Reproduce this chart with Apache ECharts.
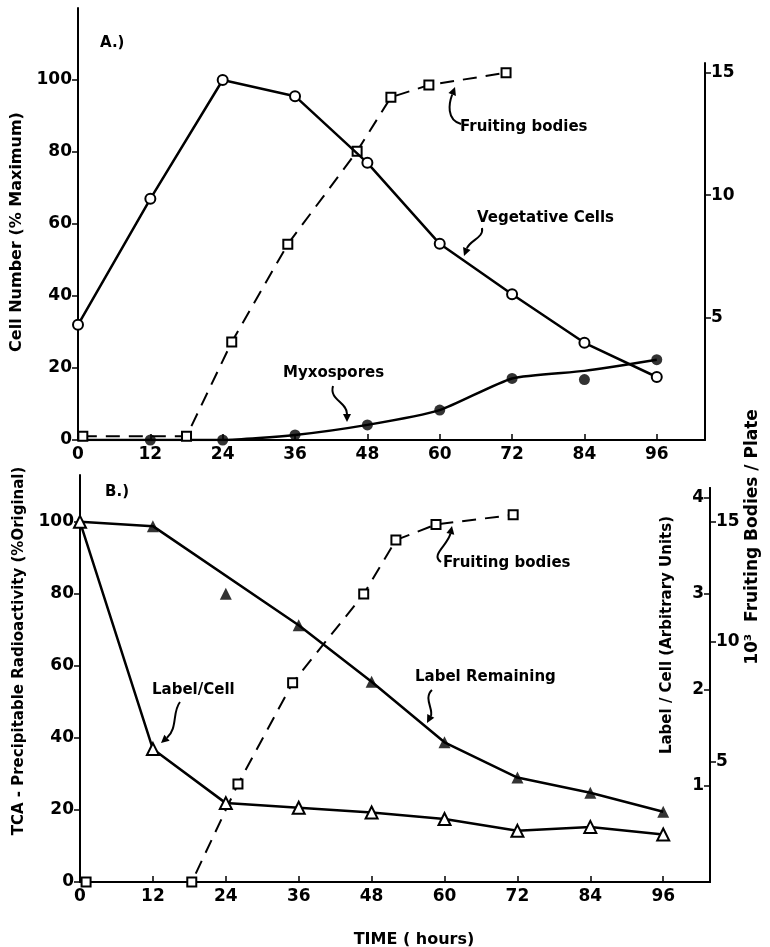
<!DOCTYPE html>
<html><head><meta charset="utf-8">
<script src="https://cdn.jsdelivr.net/npm/echarts@6/dist/echarts.min.js"></script>
<style>html,body{margin:0;padding:0;background:#fff}#c{width:770px;height:947px}</style>
</head><body><div id="c"></div>
<script>
// ---- Panel A data ----
const hours = [0, 12, 24, 36, 48, 60, 72, 84, 96];
const vegetativeCells = [32, 67, 100, 95.5, 77, 54.5, 40.5, 27, 17.5];
const myxoHours = [12, 24, 36, 48, 60, 72, 84, 96];
const myxospores = [0, 0, 1.4, 4.2, 8.3, 17.1, 16.8, 22.3];
const myxoCurveHours = [0, 12, 24, 36, 48, 60, 72, 84, 96];
const myxoCurve = [0, 0, 0, 1.4, 4.2, 8.3, 17.1, 19.2, 22.3];
const fruitHoursA = [0.8, 18, 25.5, 34.8, 46.3, 51.9, 58.2, 71];
const fruitingA = [0.15, 0.15, 4.0, 8.0, 11.8, 14.0, 14.5, 15.0];
// ---- Panel B data ----
const labelRemaining = [100, 98.8, 80, 71.3, 55.6, 38.8, 29, 24.8, 19.5];
const labelRemainingCurveHours = [0, 12, 36, 48, 60, 72, 84, 96];
const labelRemainingCurve = [100, 98.8, 71.3, 55.6, 38.8, 29, 24.8, 19.5];
const labelPerCell = [100, 36.9, 21.9, 20.6, 19.3, 17.5, 14.2, 15.3, 13.2];
const fruitHoursB = [1, 18.4, 26, 35, 46.7, 52, 58.6, 71.3];
const fruitingB = [0, 0, 4.08, 8.3, 12.0, 14.25, 14.9, 15.3];
// ---- ticks ----
const hourTicks = [0, 12, 24, 36, 48, 60, 72, 84, 96];
const pctTicks = [0, 20, 40, 60, 80, 100];
const fruitTicks = [5, 10, 15];
const labelCellTicks = [1, 2, 3, 4];

const F = 'DejaVu Sans';
const zip = (xs, ys) => xs.map((x, i) => [x, ys[i]]);
const axisLine = { show: true, onZero: false, lineStyle: { color: '#000', width: 2 } };
const noSplit = { show: false };

function xAx(grid, max, show) {
  return {
    type: 'value', gridIndex: grid, min: 0, max: max, position: 'bottom',
    show: show, axisLine: axisLine, splitLine: noSplit,
    axisTick: { show: true, inside: true, length: 6, customValues: hourTicks, lineStyle: { color: '#000', width: 1.5 } },
    axisLabel: { customValues: hourTicks, color: '#000', fontFamily: F, fontWeight: 'bold', fontSize: 17, margin: 6 }
  };
}
function yAx(grid, max, pos, ticks, inside, tickInside) {
  return {
    type: 'value', gridIndex: grid, min: 0, max: max, position: pos,
    axisLine: axisLine, splitLine: noSplit,
    axisTick: { show: true, inside: tickInside, length: 6, customValues: ticks, lineStyle: { color: '#000', width: 1.5 } },
    axisLabel: { customValues: ticks, inside: inside, color: '#000', fontFamily: F, fontWeight: 'bold', fontSize: 17, margin: 6 }
  };
}

const openSym = { color: '#fff', borderColor: '#000', borderWidth: 2 };
const solid = { color: '#000', width: 2.5 };
const dashed = { color: '#000', width: 2, type: [14, 9] };

function txt(x, y, s, size, align, rot) {
  return {
    type: 'text', x: x, y: y, rotation: rot || 0, z: 100,
    style: { text: s, fill: '#000', font: 'bold ' + size + 'px "' + F + '"', align: align || 'left', verticalAlign: 'middle' }
  };
}
function arrow(p0, c1, c2, p1) {
  const dx = p1[0] - c2[0], dy = p1[1] - c2[1];
  const L = Math.sqrt(dx * dx + dy * dy) || 1;
  const ux = dx / L, uy = dy / L, nx = -uy, ny = ux;
  const hl = 8, hw = 4;
  const bx = p1[0] - ux * hl, by = p1[1] - uy * hl;
  return [
    { type: 'bezierCurve', z: 100, shape: { x1: p0[0], y1: p0[1], cpx1: c1[0], cpy1: c1[1], cpx2: c2[0], cpy2: c2[1], x2: bx, y2: by },
      style: { stroke: '#000', lineWidth: 2, fill: null } },
    { type: 'polygon', z: 100, shape: { points: [[p1[0], p1[1]], [bx + nx * hw, by + ny * hw], [bx - nx * hw, by - ny * hw]] },
      style: { fill: '#000' } }
  ];
}

const chart = echarts.init(document.getElementById('c'), null, { renderer: 'canvas' });
chart.setOption({
  backgroundColor: '#fff',
  animation: false,
  grid: [
    { left: 78, right: 65, top: 8, height: 432 },
    { left: 78, right: 65, top: 63, height: 377 },
    { left: 80, right: 60, top: 475, height: 407 },
    { left: 80, right: 60, top: 488, height: 394 }
  ],
  xAxis: [ xAx(0, 104, true), xAx(1, 104, false), xAx(2, 103.7, true), xAx(3, 103.7, false) ],
  yAxis: [
    yAx(0, 120, 'left', pctTicks, false, false),
    yAx(1, 15.4, 'right', fruitTicks, false, false),
    yAx(2, 113, 'left', pctTicks, false, false),
    yAx(3, 4.1, 'right', labelCellTicks, true, true),
    yAx(3, 16.42, 'right', fruitTicks, false, false)
  ],
  series: [
    { name: 'Fruiting bodies (A)', type: 'line', xAxisIndex: 1, yAxisIndex: 1, data: zip(fruitHoursA, fruitingA),
      symbol: 'rect', symbolSize: 9, itemStyle: openSym, lineStyle: dashed, z: 3 },
    { name: 'Myxospores curve', type: 'line', xAxisIndex: 0, yAxisIndex: 0, data: zip(myxoCurveHours, myxoCurve),
      symbol: 'none', smooth: 0.2, lineStyle: solid, z: 2 },
    { name: 'Myxospores', type: 'scatter', xAxisIndex: 0, yAxisIndex: 0, data: zip(myxoHours, myxospores),
      symbol: 'circle', symbolSize: 11, itemStyle: { color: '#000' }, z: 4 },
    { name: 'Vegetative Cells', type: 'line', xAxisIndex: 0, yAxisIndex: 0, data: zip(hours, vegetativeCells),
      symbol: 'circle', symbolSize: 10, itemStyle: openSym, lineStyle: solid, z: 5 },

    { name: 'Fruiting bodies (B)', type: 'line', xAxisIndex: 3, yAxisIndex: 4, data: zip(fruitHoursB, fruitingB),
      symbol: 'rect', symbolSize: 9, itemStyle: openSym, lineStyle: dashed, z: 3 },
    { name: 'Label Remaining curve', type: 'line', xAxisIndex: 2, yAxisIndex: 2, data: zip(labelRemainingCurveHours, labelRemainingCurve),
      symbol: 'none', lineStyle: solid, z: 2 },
    { name: 'Label Remaining', type: 'scatter', xAxisIndex: 2, yAxisIndex: 2, data: zip(hours, labelRemaining),
      symbol: 'triangle', symbolSize: 12, itemStyle: { color: '#000' }, z: 4 },
    { name: 'Label/Cell', type: 'line', xAxisIndex: 2, yAxisIndex: 2, data: zip(hours, labelPerCell),
      symbol: 'triangle', symbolSize: 12, itemStyle: openSym, lineStyle: solid, z: 5 }
  ],
  graphic: [
    txt(17, 232, 'Cell Number (% Maximum)', 16, 'center', Math.PI / 2),
    txt(19, 651, 'TCA - Precipitable Radioactivity (%Original)', 15, 'center', Math.PI / 2),
    txt(667, 635, 'Label / Cell (Arbitrary Units)', 15, 'center', Math.PI / 2),
    txt(753, 537, '10³  Fruiting Bodies / Plate', 17, 'center', Math.PI / 2),
    txt(414, 940, 'TIME ( hours)', 16, 'center'),
    txt(100, 43, 'A.)', 15),
    txt(105, 492, 'B.)', 15),
    txt(460, 127, 'Fruiting bodies', 15),
    txt(477, 218, 'Vegetative Cells', 15),
    txt(283, 373, 'Myxospores', 15),
    txt(152, 690, 'Label/Cell', 15),
    txt(443, 563, 'Fruiting bodies', 15),
    txt(415, 677, 'Label Remaining', 15)
  ].concat(
    arrow([461, 124], [446, 120], [449, 103], [455, 87]),
    arrow([482, 228], [484, 238], [470, 240], [464, 256]),
    arrow([333, 386], [329, 400], [347, 402], [347, 422]),
    arrow([180, 702], [172, 712], [178, 728], [161, 743]),
    arrow([441, 562], [430, 555], [448, 545], [452, 526]),
    arrow([432, 690], [423, 698], [434, 710], [427, 723])
  )
});
</script></body></html>
